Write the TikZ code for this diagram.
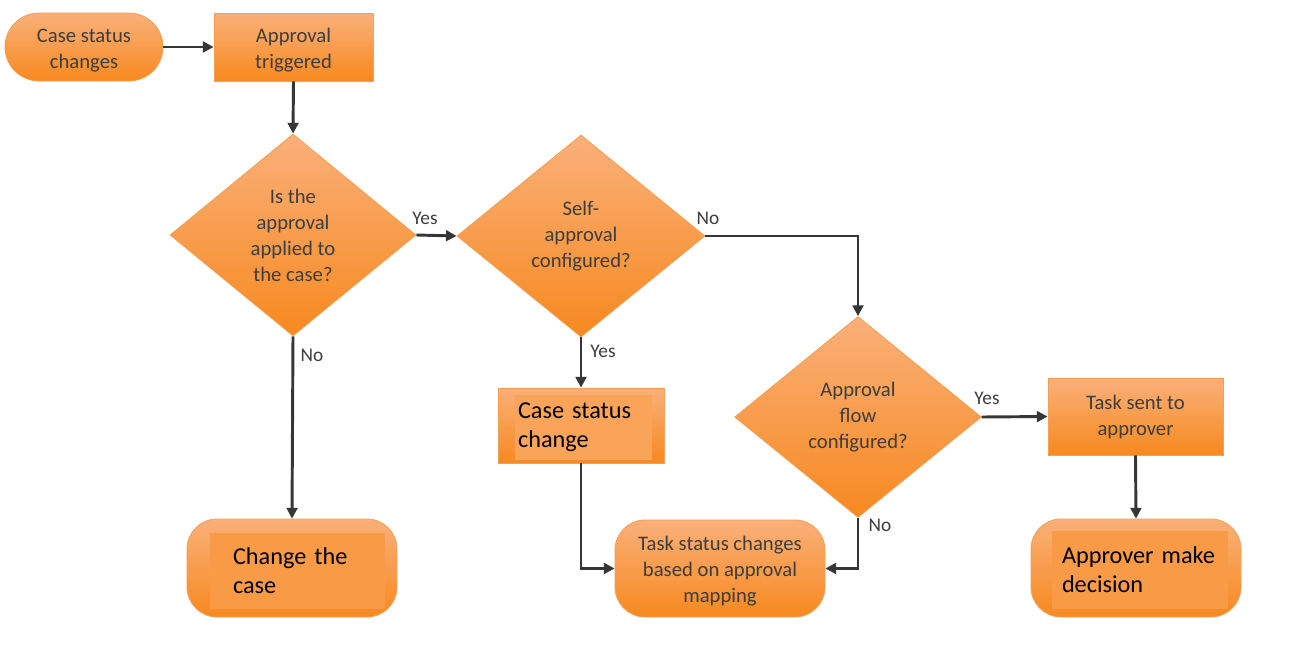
\documentclass[tikz,border=0pt]{standalone}
\usepackage{fontspec}
\setmainfont{Carlito}
\usetikzlibrary{arrows.meta,shapes.geometric}
\definecolor{otop}{HTML}{FAB07A}
\definecolor{obot}{HTML}{F7891F}
\definecolor{oline}{HTML}{F2A055}
\definecolor{txt}{HTML}{3D3D3D}
\definecolor{arr}{HTML}{363636}
\definecolor{pastefill}{HTML}{F99A47}
\definecolor{pastelight}{HTML}{FAA45A}
\begin{document}
\begin{tikzpicture}[x=0.75pt,y=-0.75pt,
  box/.style={draw=oline, line width=0.6pt, top color=otop, bottom color=obot, text=txt,
    font=\fontsize{15.5}{19.5}\selectfont, align=center, inner sep=0pt},
  proc/.style={box, rectangle},
  pill/.style={box, rectangle, rounded corners=22.5pt},
  decision/.style={box, diamond},
  flow/.style={draw=arr, line width=2.2pt, -{Triangle[length=8pt,width=8pt]}},
  lbl/.style={text=txt, font=\fontsize{14.5}{17}\selectfont, inner sep=0pt},
  paste/.style={fill=pastefill, text=black, font=\fontsize{18.2}{21.8}\selectfont,
    align=left, inner ysep=0pt}
]
\useasboundingbox (0,0) rectangle (1290,671);
\fill[white] (0,0) rectangle (1290,671);

% nodes
\node[pill, rounded corners=25.5pt, minimum width=118.5pt, minimum height=51pt] (start) at (84,47) {\rule{0pt}{15pt}Case status\\changes};
\node[proc, minimum width=119.25pt, minimum height=51pt] (trig) at (293.5,47) {\rule{0pt}{15pt}Approval\\triggered};
\node[decision, minimum width=184.5pt, minimum height=151.5pt] (d1) at (293,235) {Is the\\approval\\applied to\\the case?};
\node[decision, minimum width=186pt, minimum height=151.5pt] (d2) at (581,236) {Self-\\approval\\configured?};
\node[decision, minimum width=185pt, minimum height=150.75pt] (d3) at (858,417) {Approval\\flow\\configured?};
\node[proc, minimum width=124.5pt, minimum height=56.25pt] (csc) at (581,425.5) {};
\node[proc, minimum width=131.25pt, minimum height=57.75pt] (tsa) at (1135.5,416.5) {Task sent to\\approver};
\node[pill, minimum width=157.5pt, minimum height=73.5pt] (ctc) at (292,568) {};
\node[pill, minimum width=157.5pt, minimum height=72.75pt] (tsc) at (720,568.5) {\rule{0pt}{14.5pt}Task status changes\\based on approval\\mapping};
\node[pill, minimum width=157.5pt, minimum height=73.5pt] (amd) at (1136,568) {};

% pasted text blocks
\node[paste, minimum width=131.25pt, minimum height=57pt, text width=96.75pt, inner xsep=17.25pt] (ctct) at (297.5,570.5) {Change the\\case};
\node[paste, fill=pastelight, minimum width=102.75pt, minimum height=48.75pt, text width=98.25pt, inner xsep=2.25pt] (csct) at (583.5,427.5) {Case status\\change};
\node[paste, minimum width=132pt, minimum height=58.5pt, text width=117pt, inner xsep=7.5pt] (amdt) at (1140,570) {Approver make\\decision};

% connectors
\draw[flow] (start.east) -- (trig.west);
\draw[flow] (trig.south) -- (d1.north);
\draw[flow] (d1.east) -- (d2.west);
\draw[flow] (d2.east) -| (d3.north);
\draw[flow] (d2.south) -- (csc.north);
\draw[flow] (d3.east) -- (tsa.west);
\draw[flow] (tsa.south) -- (amd.north);
\draw[flow] (d1.south) -- (ctc.north);
\draw[flow] (csc.south) |- (tsc.west);
\draw[flow] (d3.south) |- (tsc.east);

% labels
\node[lbl] (l1) at (425,218) {Yes};
\node[lbl] (l2) at (708,218) {No};
\node[lbl] (l3) at (603,351) {Yes};
\node[lbl] (l4) at (312,355) {No};
\node[lbl] (l5) at (987,398) {Yes};
\node[lbl] (l6) at (880,525) {No};
\end{tikzpicture}
\end{document}
